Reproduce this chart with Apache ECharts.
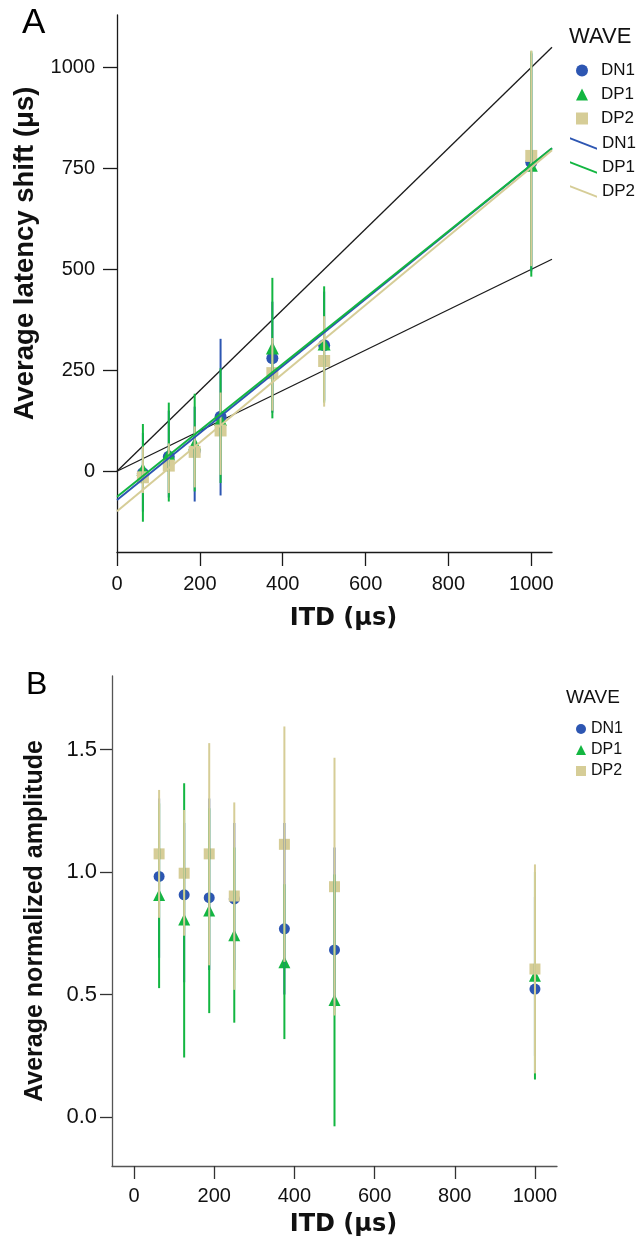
<!DOCTYPE html>
<html>
<head>
<meta charset="utf-8">
<script src="https://cdn.jsdelivr.net/npm/echarts@6/dist/echarts.min.js"></script>
<style>
  html, body { margin: 0; padding: 0; background: #fff; }
  #chart { width: 636px; height: 1240px; }
</style>
</head>
<body>
<div id="chart"></div>
<script>
const waves = ['DN1', 'DP1', 'DP2']
const colors = ['#2d56b2', '#13b641', '#d6cd97']
const symbols = ['circle', 'triangle', 'rect']
const itd = [62.5, 125, 187.5, 250, 375, 500, 1000]

// panel A: latency shift, mean and 95% CI per wave (DN1, DP1, DP2)
const latMean = [
  [-5, 36, 50, 135, 280, 312, 765],
  [5, 43, 68, 128, 305, 315, 758],
  [-15, 14, 48, 101, 243, 273, 781]
]
const latLow = [
  [-100, -65, -75, -60, 145, 175, 495],
  [-125, -75, -50, -29, 131, 170, 482],
  [-54, -54, -40, -9, 150, 160, 508]
]
const latHigh = [
  [95, 150, 160, 328, 420, 445, 1035],
  [117, 170, 192, 255, 479, 458, 1040],
  [61, 69, 111, 195, 330, 384, 1042]
]
// fitted lines, value at x = 0 and at x = 1050
const fitStart = [-71, -63, -99]
const fitEnd = [800, 800, 795]
// reference lines through the origin (slope 1 and 0.5)
const refStart = [0, 0]
const refEnd = [1050, 525]

// panel B: normalized amplitude, mean and 95% CI
const ampMean = [
  [0.982, 0.907, 0.895, 0.89, 0.768, 0.682, 0.522],
  [0.906, 0.806, 0.843, 0.742, 0.632, 0.478, 0.577],
  [1.074, 0.995, 1.074, 0.902, 1.113, 0.94, 0.604]
]
const ampLow = [
  [0.65, 0.55, 0.6, 0.6, 0.5, 0.45, 0.25],
  [0.526, 0.243, 0.424, 0.385, 0.318, -0.038, 0.153],
  [0.813, 0.74, 0.619, 0.519, 0.633, 0.414, 0.178]
]
const ampHigh = [
  [1.3, 1.2, 1.3, 1.2, 1.2, 1.1, 0.9],
  [1.28, 1.362, 1.26, 1.1, 0.95, 0.99, 1.0],
  [1.335, 1.253, 1.526, 1.284, 1.594, 1.466, 1.031]
]

const xTicks = [0, 200, 400, 600, 800, 1000]
const latTicks = [0, 250, 500, 750, 1000]
const ampTicks = [0, 0.5, 1.0, 1.5]

const font = 'Liberation Sans'
const lineIcon = 'path://M0,0 L0,2 L28,13 L28,11 Z'

const chart = echarts.init(document.getElementById('chart'))

const errorBar = (color, width) => (params, api) => {
  const x = api.value(0)
  const lo = api.coord([x, api.value(1)])
  const hi = api.coord([x, api.value(2)])
  return {
    type: 'line',
    shape: { x1: lo[0], y1: lo[1], x2: hi[0], y2: hi[1] },
    style: { stroke: color, lineWidth: width }
  }
}

const axisCommon = (color) => ({
  axisLine: { show: true, onZero: false, lineStyle: { color: color, width: 1.3 } },
  splitLine: { show: false },
  nameLocation: 'middle'
})

const series = []

waves.forEach((w, i) => {
  series.push({
    name: w,
    type: 'scatter',
    xAxisIndex: 0, yAxisIndex: 0,
    symbol: symbols[i],
    symbolSize: i === 1 ? 13 : 12,
    itemStyle: { color: colors[i], opacity: 1 },
    data: itd.map((x, k) => [x, latMean[i][k]]),
    z: 3
  })
})
waves.forEach((w, i) => {
  series.push({
    name: w + ' bar',
    type: 'custom',
    xAxisIndex: 0, yAxisIndex: 0,
    renderItem: errorBar(colors[i], 2),
    encode: { x: 0, y: [1, 2] },
    data: itd.map((x, k) => [x, latLow[i][k], latHigh[i][k]]),
    z: 4
  })
})
waves.forEach((w, i) => {
  series.push({
    name: w + ' fit',
    type: 'line',
    xAxisIndex: 0, yAxisIndex: 0,
    symbol: 'none',
    lineStyle: { color: colors[i], width: 2 },
    itemStyle: { color: colors[i] },
    data: [[0, fitStart[i]], [1050, fitEnd[i]]],
    z: 5
  })
})
refStart.forEach((v, i) => {
  series.push({
    name: 'ref' + i,
    type: 'line',
    xAxisIndex: 0, yAxisIndex: 0,
    symbol: 'none',
    lineStyle: { color: '#1a1a1a', width: 1.3 },
    data: [[0, v], [1050, refEnd[i]]],
    z: 2
  })
})
waves.forEach((w, i) => {
  series.push({
    name: w,
    type: 'scatter',
    xAxisIndex: 1, yAxisIndex: 1,
    symbol: symbols[i],
    symbolSize: i === 1 ? 12 : 11,
    itemStyle: { color: colors[i], opacity: 1 },
    data: itd.map((x, k) => [x, ampMean[i][k]]),
    z: 3
  })
})
waves.forEach((w, i) => {
  series.push({
    name: w + ' bar',
    type: 'custom',
    xAxisIndex: 1, yAxisIndex: 1,
    renderItem: errorBar(colors[i], 2),
    encode: { x: 0, y: [1, 2] },
    data: itd.map((x, k) => [x, ampLow[i][k], ampHigh[i][k]]),
    z: 4
  })
})

const plain = (v) => String(v)

const option = {
  backgroundColor: '#fff',
  animation: false,
  textStyle: { fontFamily: font },
  title: [
    { text: 'A', left: 22, top: 6, padding: 0, textStyle: { fontSize: 35, fontWeight: 'normal', color: '#000', fontFamily: font } },
    { text: 'WAVE', left: 569, top: 26, padding: 0, textStyle: { fontSize: 22, fontWeight: 'normal', color: '#111', fontFamily: font } },
    { text: 'B', left: 26, top: 669, padding: 0, textStyle: { fontSize: 32, fontWeight: 'normal', color: '#000', fontFamily: font } },
    { text: 'WAVE', left: 566, top: 688, padding: 0, textStyle: { fontSize: 19, fontWeight: 'normal', color: '#111', fontFamily: font } }
  ],
  legend: [
    {
      orient: 'vertical', left: 576, top: 62, padding: 0,
      itemWidth: 12, itemHeight: 12, itemGap: 7,
      itemStyle: { borderWidth: 0 },
      textStyle: { fontSize: 17, color: '#111', fontFamily: font, padding: [0, 0, 0, 8] },
      selectedMode: false,
      data: [
        { name: 'DN1', icon: 'circle' },
        { name: 'DP1', icon: 'triangle' },
        { name: 'DP2', icon: 'rect' }
      ]
    },
    {
      orient: 'vertical', left: 570, top: 135, padding: 0,
      itemWidth: 27, itemHeight: 13, itemGap: 7,
      itemStyle: { borderWidth: 0 },
      textStyle: { fontSize: 17, color: '#111', fontFamily: font },
      formatter: (n) => n.split(' ')[0],
      selectedMode: false,
      data: [
        { name: 'DN1 fit', icon: lineIcon },
        { name: 'DP1 fit', icon: lineIcon },
        { name: 'DP2 fit', icon: lineIcon }
      ]
    },
    {
      orient: 'vertical', left: 576, top: 721, padding: 0,
      itemWidth: 10, itemHeight: 10, itemGap: 5,
      itemStyle: { borderWidth: 0 },
      textStyle: { fontSize: 16, color: '#111', fontFamily: font },
      selectedMode: false,
      data: [
        { name: 'DN1', icon: 'circle' },
        { name: 'DP1', icon: 'triangle' },
        { name: 'DP2', icon: 'rect' }
      ]
    }
  ],
  grid: [
    { left: 117, top: 15, width: 435, height: 537 },
    { left: 112, top: 676, width: 445, height: 490 }
  ],
  xAxis: [
    Object.assign(axisCommon('#1a1a1a'), {
      gridIndex: 0, type: 'value', min: 0, max: 1050, interval: 200,
      name: 'ITD (μs)', nameGap: 55,
      nameTextStyle: { fontSize: 24, fontWeight: 'bold', color: '#111', fontFamily: 'DejaVu Sans', padding: [0, 0, 0, 18] },
      axisTick: { show: true, length: 14, lineStyle: { color: '#1a1a1a', width: 1.3 } },
      axisLabel: { fontSize: 20, color: '#111', margin: 22, fontFamily: font, formatter: plain }
    }),
    Object.assign(axisCommon('#555'), {
      gridIndex: 1, type: 'value', min: -55, max: 1055,
      name: 'ITD (μs)', nameGap: 47,
      nameTextStyle: { fontSize: 24, fontWeight: 'bold', color: '#111', fontFamily: 'DejaVu Sans', padding: [0, 0, 0, 18] },
      axisTick: { show: true, length: 13, customValues: xTicks, lineStyle: { color: '#333', width: 1.3 } },
      axisLabel: { fontSize: 20, color: '#111', margin: 20, fontFamily: font, customValues: xTicks, formatter: plain }
    })
  ],
  yAxis: [
    Object.assign(axisCommon('#1a1a1a'), {
      gridIndex: 0, type: 'value', min: -200, max: 1130,
      name: 'Average latency shift (μs)', nameGap: 66,
      nameTextStyle: { fontSize: 27.5, fontWeight: 'bold', color: '#111', fontFamily: font, padding: [0, 0, 0, 60] },
      axisTick: { show: true, length: 14, customValues: latTicks, lineStyle: { color: '#1a1a1a', width: 1.3 } },
      axisLabel: { fontSize: 20, color: '#111', margin: 22, fontFamily: font, customValues: latTicks, formatter: plain }
    }),
    Object.assign(axisCommon('#555'), {
      gridIndex: 1, type: 'value', min: -0.2, max: 1.8,
      name: 'Average normalized amplitude', nameGap: 64,
      nameTextStyle: { fontSize: 25, fontWeight: 'bold', color: '#111', fontFamily: font },
      axisTick: { show: true, length: 12, customValues: ampTicks, lineStyle: { color: '#333', width: 1.3 } },
      axisLabel: { fontSize: 22, color: '#111', margin: 15, fontFamily: font, customValues: ampTicks, formatter: (v) => v.toFixed(1) }
    })
  ],
  series: series
}

chart.setOption(option)
</script>
</body>
</html>
